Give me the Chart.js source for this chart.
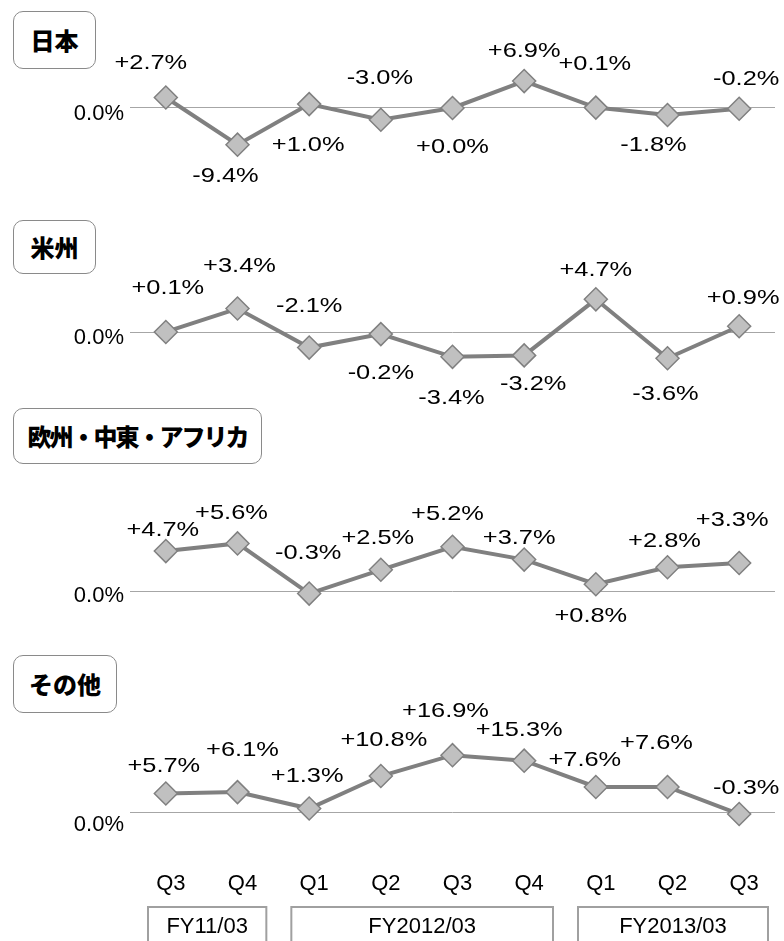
<!DOCTYPE html>
<html lang="ja">
<head>
<meta charset="utf-8">
<title>地域別 前年同期比</title>
<script src="https://cdn.jsdelivr.net/npm/chart.js@4.4.1/dist/chart.umd.min.js"></script>
<style>
  html, body { margin: 0; padding: 0; background: #fff; }
  body { position: relative; width: 784px; height: 941px; overflow: hidden; }
  canvas { position: absolute; left: 0; }
  .tag {
    position: absolute; box-sizing: border-box;
    border: 1.5px solid #8a8a8a; border-radius: 10px; background: #fff;
    display: flex; align-items: center; justify-content: center;
    font-family: "Noto Sans CJK JP", sans-serif; font-weight: 900; font-size: 24px;
    line-height: 1; color: #000; white-space: nowrap;
  }
</style>
</head>
<body>
<script>
// data
const quarters = ['Q3', 'Q4', 'Q1', 'Q2', 'Q3', 'Q4', 'Q1', 'Q2', 'Q3']
const fiscalYears = ['FY11/03', 'FY2012/03', 'FY2013/03']
const quartersPerYear = [2, 4, 3]
const regionNames = ['日本', '米州', '欧州・中東・アフリカ', 'その他']
const japan = [2.7, -9.4, 1.0, -3.0, 0.0, 6.9, 0.1, -1.8, -0.2]
const americas = [0.1, 3.4, -2.1, -0.2, -3.4, -3.2, 4.7, -3.6, 0.9]
const emea = [4.7, 5.6, -0.3, 2.5, 5.2, 3.7, 0.8, 2.8, 3.3]
const others = [5.7, 6.1, 1.3, 10.8, 16.9, 15.3, 7.6, 7.6, -0.3]

const FONT = '"Liberation Sans", Arial, sans-serif'

// layout of each small chart (label shifts are pixel nudges from the point)
const panels = [
  { name: regionNames[0], values: japan, top: 0, height: 200, min: -23.59, max: 27.69, zeroShift: 6,
    tag: [13, 11, 83, 58], spacing: 0,
    shifts: [[-15, -36], [-12, 30], [-1, 39], [-1, -43], [0, 38], [0, -32], [-1, -45], [-14, 28], [7, -31]] },
  { name: regionNames[1], values: americas, top: 200, height: 220, min: -12.30, max: 18.69, zeroShift: 5,
    tag: [13, 220, 83, 54], spacing: 0,
    shifts: [[2, -45], [2, -44], [0, -43], [0, 37], [-1, 40], [9, 27], [0, -31], [-2, 34], [4, -30]] },
  { name: regionNames[2], values: emea, top: 400, height: 240, min: -5.76, max: 22.47, zeroShift: 5,
    tag: [13, 408, 249, 56], spacing: -2,
    shifts: [[-3, -23], [-6, -32], [-1, -42], [-3, -33], [-5, -34], [-5, -23], [-5, 30], [-3, -28], [-7, -44]] },
  { name: regionNames[3], values: others, top: 640, height: 301, min: -14.04, max: 50.58, zeroShift: 12,
    tag: [13, 655, 104, 58], spacing: 0, axis: true,
    shifts: [[-2, -29], [5, -44], [-2, -34], [3, -38], [-7, -46], [-5, -32], [-11, -28], [-11, -45], [7, -28]] }
]

const fmt = v => (v >= 0 ? '+' : '') + v.toFixed(1) + '%'

function valueLabels(panel) {
  return {
    id: 'valueLabels',
    afterDatasetsDraw(chart) {
      const ctx = chart.ctx
      const pts = chart.getDatasetMeta(0).data
      ctx.save()
      ctx.font = '21px ' + FONT
      ctx.fillStyle = '#000'
      ctx.textAlign = 'center'
      ctx.textBaseline = 'alphabetic'
      pts.forEach((pt, i) => {
        const s = panel.shifts[i]
        ctx.save()
        ctx.translate(pt.x + s[0], pt.y + s[1] + 7.5)
        ctx.scale(1.21, 1)
        ctx.fillText(fmt(panel.values[i]), 0, 0)
        ctx.restore()
      })
      ctx.restore()
    }
  }
}

// fiscal year boxes under the quarter labels
const fiscalBoxes = {
  id: 'fiscalBoxes',
  afterDraw(chart) {
    const x = chart.scales.x
    const ctx = chart.ctx
    const area = chart.chartArea
    const half = (x.getPixelForValue(1) - x.getPixelForValue(0)) / 2
    let start = 0
    ctx.save()
    ctx.strokeStyle = '#a0a0a0'
    ctx.lineWidth = 2
    ctx.font = '22px ' + FONT
    ctx.fillStyle = '#000'
    ctx.textAlign = 'center'
    ctx.textBaseline = 'alphabetic'
    fiscalYears.forEach((fy, k) => {
      const end = start + quartersPerYear[k] - 1
      const l = x.getPixelForValue(start) - half + 18
      const r = x.getPixelForValue(end) + half - 7
      ctx.strokeRect(l, area.bottom + 46, r - l, 60)
      ctx.fillText(fy, (l + r) / 2, area.bottom + 72)
      start = end + 1
    })
    ctx.restore()
  }
}

panels.forEach(p => {
  const tag = document.createElement('div')
  tag.className = 'tag'
  tag.textContent = p.name
  tag.style.left = p.tag[0] + 'px'
  tag.style.top = p.tag[1] + 'px'
  tag.style.width = p.tag[2] + 'px'
  tag.style.height = p.tag[3] + 'px'
  tag.style.letterSpacing = p.spacing + 'px'

  const cv = document.createElement('canvas')
  cv.width = 784
  cv.height = p.height
  cv.style.top = p.top + 'px'
  document.body.appendChild(cv)
  document.body.appendChild(tag)

  const plugins = [valueLabels(p)]
  if (p.axis) plugins.push(fiscalBoxes)

  new Chart(cv, {
    type: 'line',
    data: {
      labels: quarters,
      datasets: [{
        data: p.values,
        borderColor: '#808080',
        borderWidth: 4,
        tension: 0,
        pointStyle: 'rectRot',
        pointRadius: 11.5,
        pointBackgroundColor: '#c0c0c0',
        pointBorderColor: '#808080',
        pointBorderWidth: 1.5,
        clip: false
      }]
    },
    options: {
      responsive: false,
      animation: false,
      events: [],
      layout: { autoPadding: false, padding: { top: 0, bottom: 0, left: 0, right: 9 } },
      plugins: { legend: { display: false }, tooltip: { enabled: false } },
      scales: {
        x: {
          display: !!p.axis,
          offset: true,
          afterFit: s => {
            if (p.axis) s.height = 80
            s.paddingLeft = 0
            s.paddingRight = 0
          },
          grid: { display: false, drawTicks: false },
          border: { display: false },
          ticks: {
            font: { family: FONT, size: 22 },
            color: '#000',
            padding: 10,
            labelOffset: 5,
            autoSkip: false,
            maxRotation: 0
          }
        },
        y: {
          min: p.min,
          max: p.max,
          afterFit: s => {
            s.width = 130
            s.paddingTop = 0
            s.paddingBottom = 0
          },
          afterBuildTicks: s => { s.ticks = [{ value: 0 }] },
          grid: { color: '#a6a6a6', lineWidth: 1, drawTicks: false },
          border: { display: false },
          ticks: {
            callback: () => '0.0%',
            font: { family: FONT, size: 22 },
            color: '#000',
            padding: 6,
            labelOffset: p.zeroShift
          }
        }
      }
    },
    plugins: plugins
  })
})
</script>
</body>
</html>
